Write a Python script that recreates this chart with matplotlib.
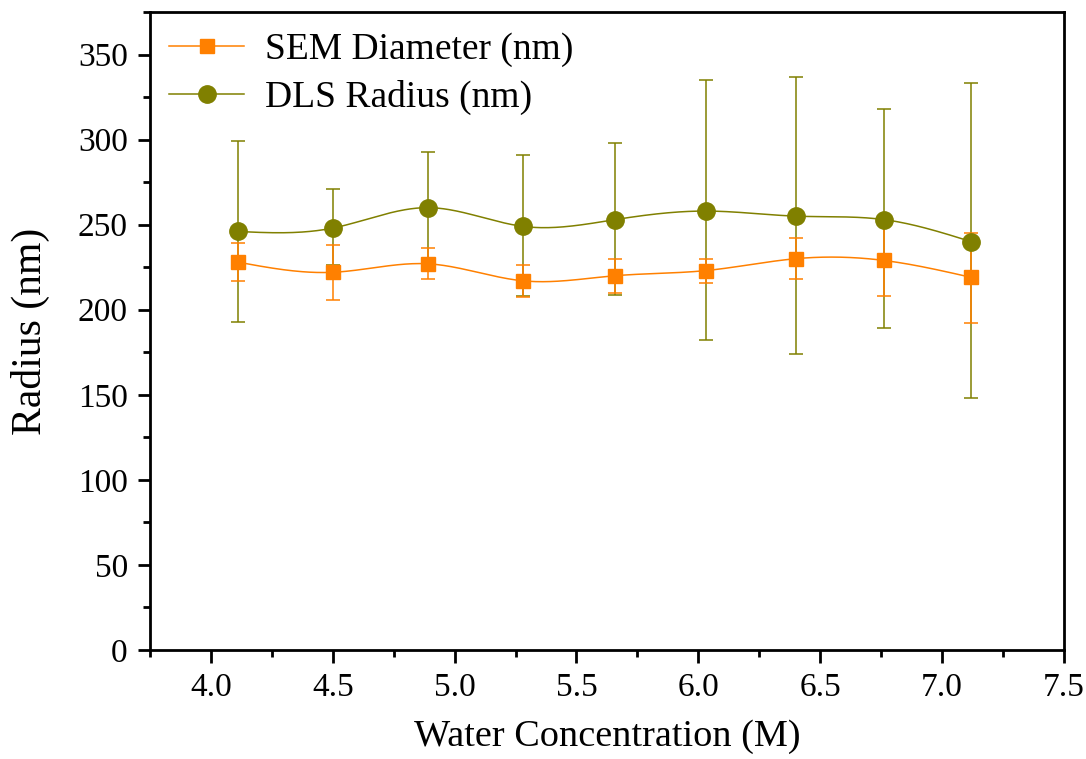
import numpy as np
import matplotlib
matplotlib.use("Agg")
import matplotlib.pyplot as plt
from matplotlib.ticker import MultipleLocator

water_conc = [4.11, 4.50, 4.89, 5.28, 5.66, 6.03, 6.40, 6.76, 7.12]
sem_diam = [228, 222, 227, 217, 220, 223, 230, 229, 219]
sem_err_hi = [239, 238, 236.5, 226, 230, 230, 242, 250, 245]
sem_err_lo = [217, 206, 218, 207.5, 210, 216, 218, 208, 192]
dls_rad = [246, 248, 260, 249, 253, 258, 255, 253, 240]
dls_err_hi = [299, 271, 293, 291, 298, 335, 337, 318, 333]
dls_err_lo = [193, 226, 227, 208, 208.5, 182, 174, 189, 148]

plt.rcParams['font.family'] = ['Liberation Serif', 'DejaVu Serif']


def natural_spline(x, y, n=400):
    x = np.asarray(x, float); y = np.asarray(y, float)
    k = len(x); h = np.diff(x)
    A = np.zeros((k, k)); b = np.zeros(k)
    A[0, 0] = 1; A[-1, -1] = 1
    for i in range(1, k - 1):
        A[i, i - 1] = h[i - 1]; A[i, i] = 2 * (h[i - 1] + h[i]); A[i, i + 1] = h[i]
        b[i] = 3 * ((y[i + 1] - y[i]) / h[i] - (y[i] - y[i - 1]) / h[i - 1])
    c = np.linalg.solve(A, b)
    xs = np.linspace(x[0], x[-1], n); ys = np.empty_like(xs)
    for j, xv in enumerate(xs):
        i = min(np.searchsorted(x, xv, side='right') - 1, k - 2)
        dx = xv - x[i]
        bb = (y[i + 1] - y[i]) / h[i] - h[i] * (2 * c[i] + c[i + 1]) / 3
        d = (c[i + 1] - c[i]) / (3 * h[i])
        ys[j] = y[i] + bb * dx + c[i] * dx ** 2 + d * dx ** 3
    return xs, ys


fig = plt.figure(figsize=(10.86, 7.59), dpi=100)
ax = fig.add_axes([0.1381, 0.1436, 0.9797 - 0.1381, 0.9842 - 0.1436])

orange = '#FF8000'
olive = '#808000'

x = np.array(water_conc)
sem = np.array(sem_diam); dls = np.array(dls_rad)

ax.errorbar(x, dls, yerr=[dls - np.array(dls_err_lo), np.array(dls_err_hi) - dls],
            fmt='none', ecolor=olive, elinewidth=1.1, capsize=4.7, capthick=1.1, zorder=2)
ax.errorbar(x, sem, yerr=[sem - np.array(sem_err_lo), np.array(sem_err_hi) - sem],
            fmt='none', ecolor=orange, elinewidth=1.1, capsize=4.7, capthick=1.1, zorder=2)

xs, ys = natural_spline(x, sem)
ax.plot(xs, ys, color=orange, lw=1.1, zorder=3)
xs, ys = natural_spline(x, dls)
ax.plot(xs, ys, color=olive, lw=1.1, zorder=3)
ax.plot(x, sem, 's', color=orange, ms=10.5, zorder=4)
ax.plot(x, dls, 'o', color=olive, ms=12.5, zorder=4)

h1, = ax.plot([], [], '-s', color=orange, lw=1.1, ms=10.5, label='SEM Diameter (nm)')
h2, = ax.plot([], [], '-o', color=olive, lw=1.1, ms=12.5, label='DLS Radius (nm)')
ax.legend(handles=[h1, h2], loc='upper left', frameon=False, fontsize=27,
          handlelength=2.0, borderaxespad=0.0, borderpad=0.0, labelspacing=0.35,
          handletextpad=0.55, bbox_to_anchor=(0.021, 0.968))

ax.set_xlim(3.75, 7.5)
ax.set_ylim(0, 375)
ax.xaxis.set_major_locator(MultipleLocator(0.5))
ax.xaxis.set_minor_locator(MultipleLocator(0.25))
ax.yaxis.set_major_locator(MultipleLocator(50))
ax.yaxis.set_minor_locator(MultipleLocator(25))
ax.xaxis.set_major_formatter(matplotlib.ticker.FormatStrFormatter('%.1f'))
ax.tick_params(which='major', length=9, width=2, labelsize=24, direction='out', pad=7)
ax.tick_params(which='minor', length=5, width=2, direction='out')
for s in ax.spines.values():
    s.set_linewidth(2)

ax.set_xlabel('Water Concentration (M)', fontsize=27.5, labelpad=12)
ax.set_ylabel('Radius (nm)', fontsize=30, labelpad=20)

fig.savefig('out.png', dpi=100)
